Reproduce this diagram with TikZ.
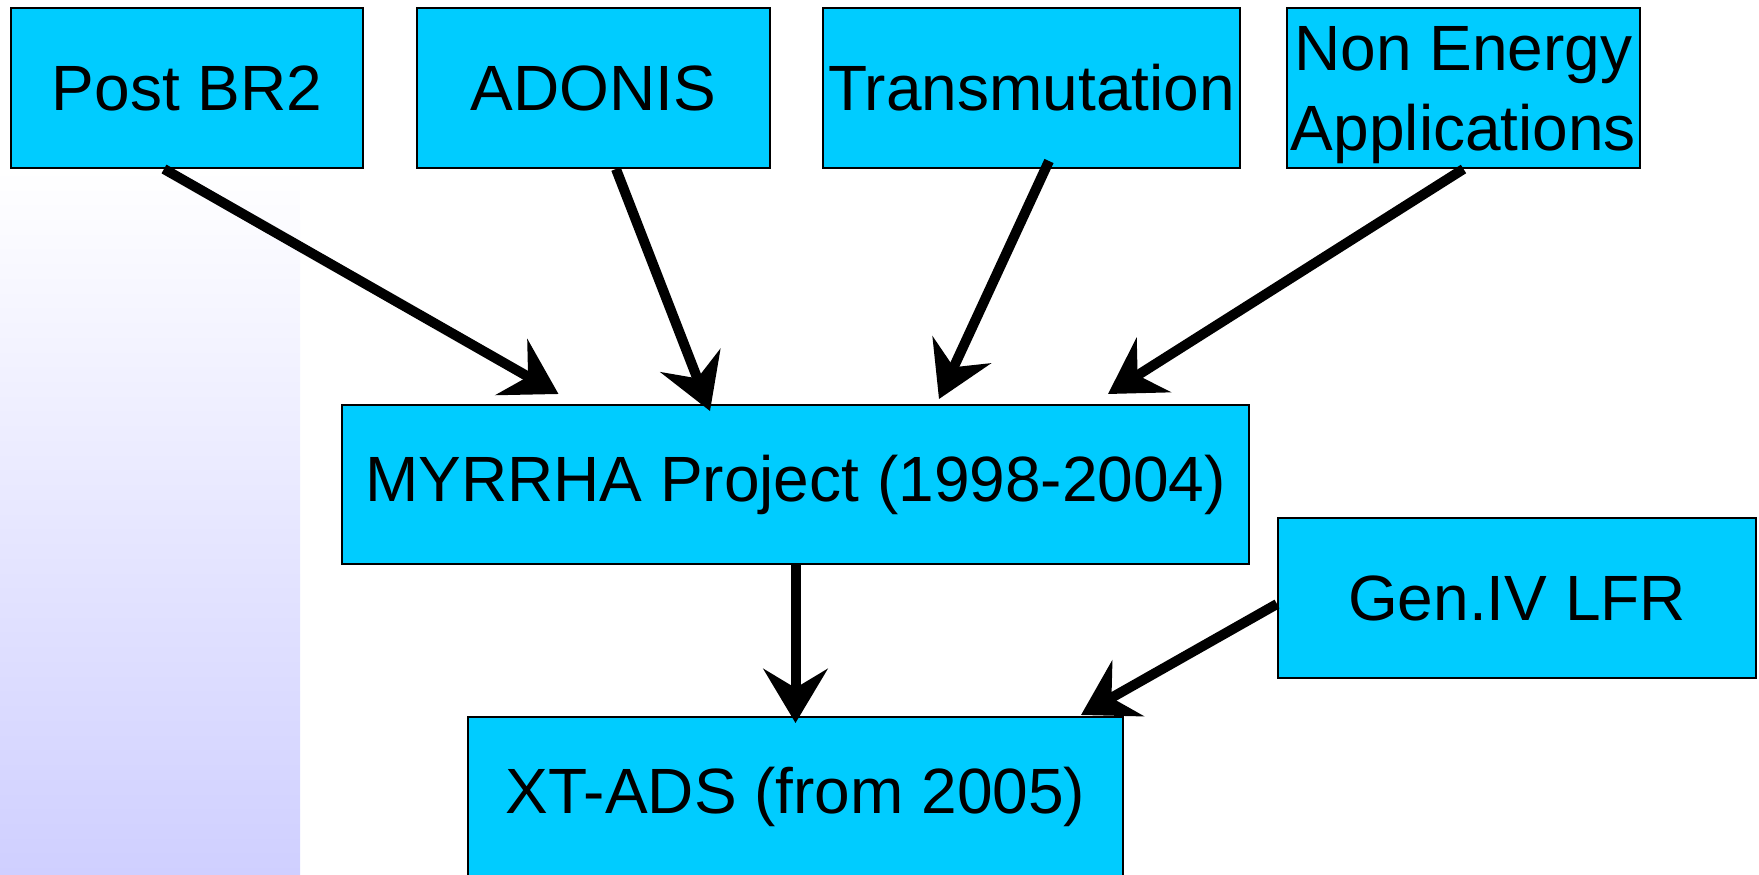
\documentclass[tikz,border=0pt]{standalone}
\usepackage{fontspec}
\setmainfont{Liberation Sans}
\usetikzlibrary{calc, arrows.meta}
\definecolor{boxblue}{HTML}{00CCFF}
\definecolor{stripblue}{HTML}{CFCFFF}

\begin{document}
\begin{tikzpicture}[x=1pt, y=-1pt,
    box/.style={draw=black, line width=2pt, fill=boxblue, inner sep=0pt,
      minimum height=160pt, align=center, font=\fontsize{64}{80}\selectfont},
    arr/.style={line width=10pt, -{Stealth[length=54pt, width=64pt, inset=19pt]}}]
                \useasboundingbox (0,0) rectangle (1759,875);
                \shade[top color=white, bottom color=stripblue] (0,168) rectangle (300,875);
                % top row
                \node[box, minimum width=352pt] (PB) at (187,88) {Post BR2};
                \node[box, minimum width=353pt] (AD) at (593.5,88) {ADONIS};
                \node[box, minimum width=417pt] (TR) at (1031.5,88) {Transmutation};
                \node[box, minimum width=353pt, text depth=0pt] (NE) at (1463.5,88) {Non Energy\\Applications};
                % middle and bottom
                \node[box, minimum width=907pt, minimum height=159pt] (MY) at (795.5,484.5) {MYRRHA Project (1998-2004)};
                \node[box, minimum width=478pt] (GL) at (1517,598) {Gen.IV LFR};
                \node[box, minimum width=655pt] (XT) at (795.5,797) {XT-ADS (from 2005)};
                \draw[arr] ($(PB.south)+(-23,0)$) -- ($(MY.north)+(-237,-10)$);
                \draw[arr] ($(AD.south)+(22.5,0)$) -- ($(MY.north)+(-85.5,7)$);
                \draw[arr] ($(TR.south)+(17.5,-8)$) -- ($(MY.north)+(143.5,-5)$);
                \draw[arr] (NE.south) -- ($(MY.north)+(312.5,-10)$);
                \draw[arr] (MY.south) -- ($(XT.north)+(0,7)$);
                \draw[arr] ($(GL.west)+(0,6)$) -- ($(XT.north east)+(-43,-1)$);
\end{tikzpicture}
\end{document}
